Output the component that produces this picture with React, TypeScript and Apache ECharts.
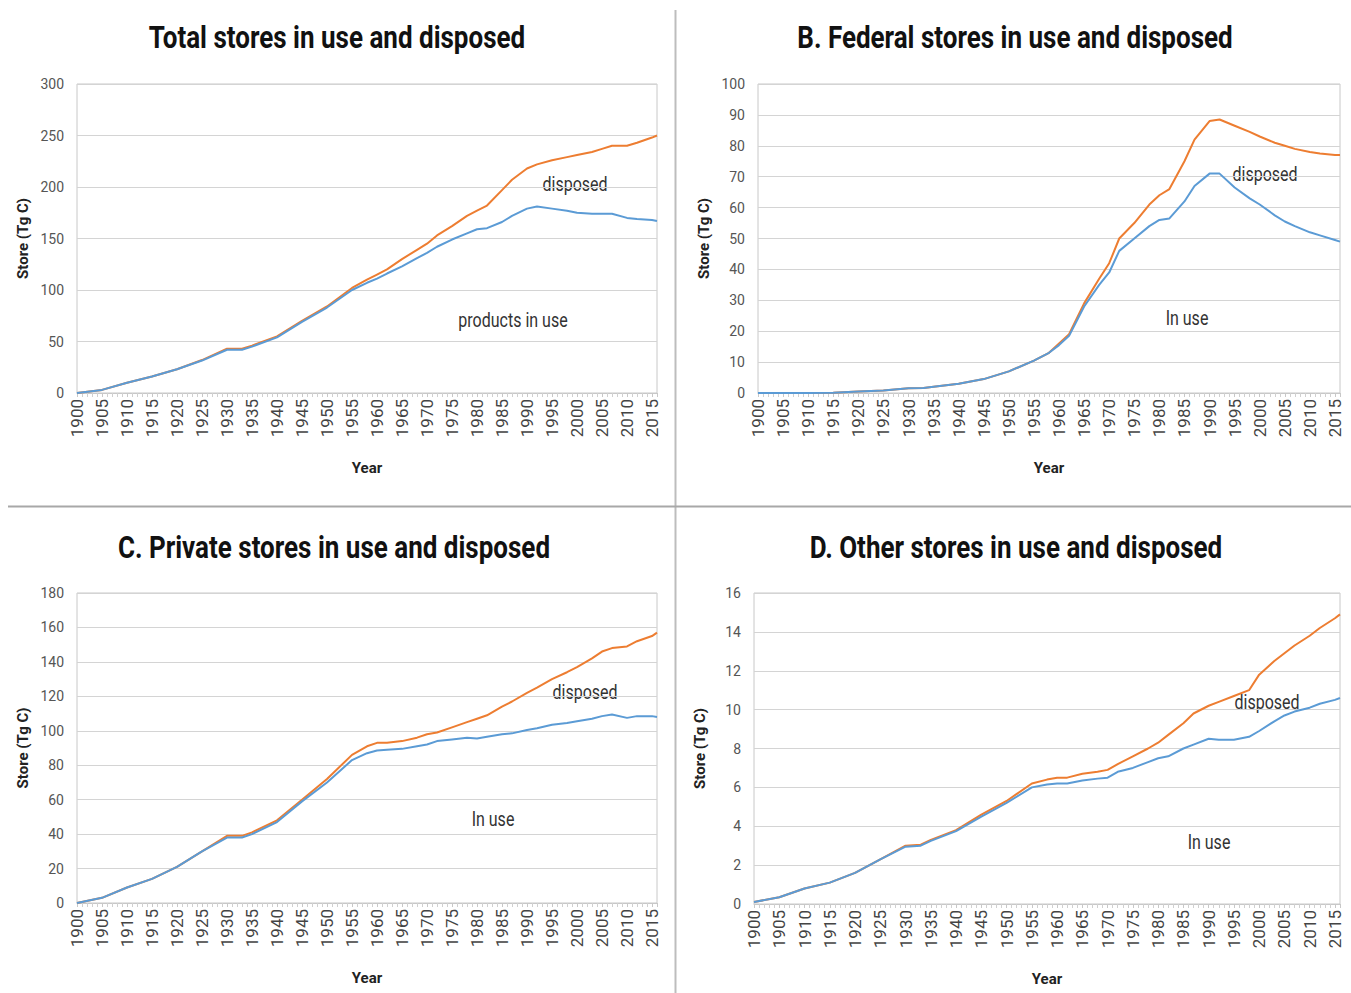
import React, { useEffect, useRef } from "react";
import * as echarts from "echarts";

const years = [1900, 1905, 1910, 1915, 1920, 1925, 1930, 1933, 1935, 1940, 1945, 1950, 1955, 1958, 1960, 1962, 1965, 1968, 1970, 1972, 1975, 1978, 1980, 1982, 1985, 1987, 1990, 1992, 1995, 1998, 2000, 2003, 2005, 2007, 2010, 2012, 2015, 2016];

const totalDisposed = [0, 3, 10, 16, 23, 32, 43, 43, 46, 55, 70, 84, 102, 110, 115, 120, 130, 139, 145, 153, 162, 172, 177, 182, 197, 207, 218, 222, 226, 229, 231, 234, 237, 240, 240, 243, 248, 250];
const totalInUse = [0, 3, 10, 16, 23, 31.5, 42, 42, 45, 54, 69, 83, 100, 107, 111, 116, 123, 131, 136, 142, 149, 155, 159, 160, 166, 172, 179, 181, 179, 177, 175, 174, 174, 174, 170, 169, 168, 167];

const federalDisposed = [0, 0, 0, 0.1, 0.5, 0.8, 1.5, 1.6, 2, 3, 4.5, 7, 10.5, 13, 16, 19, 29, 37, 42, 50, 55, 61, 64, 66, 75, 82, 88, 88.5, 86.5, 84.5, 83, 81, 80, 79, 78, 77.5, 77, 77];
const federalInUse = [0, 0, 0, 0.1, 0.5, 0.8, 1.5, 1.6, 2, 3, 4.5, 7, 10.5, 13, 15.5, 18.5, 28, 35, 39, 46, 50, 54, 56, 56.5, 62, 67, 71, 71, 66.5, 63, 61, 57.5, 55.5, 54, 52, 51, 49.5, 49];

const privateDisposed = [0, 3, 9, 14, 21, 30, 39, 39, 41, 48, 60, 72, 86, 91, 93, 93, 94, 96, 98, 99, 102, 105, 107, 109, 114, 117, 122, 125, 130, 134, 137, 142, 146, 148, 149, 152, 155, 157];
const privateInUse = [0, 3, 9, 14, 21, 30, 38, 38, 40, 47, 59, 70, 83, 87, 88.5, 89, 89.5, 91, 92, 94, 95, 96, 95.5, 96.5, 98, 98.5, 100.5, 101.5, 103.5, 104.5, 105.5, 107, 108.5, 109.5, 107.5, 108.5, 108.5, 108];

const otherDisposed = [0.1, 0.35, 0.8, 1.1, 1.6, 2.3, 3.0, 3.05, 3.3, 3.8, 4.6, 5.3, 6.2, 6.4, 6.5, 6.5, 6.7, 6.8, 6.9, 7.2, 7.6, 8.0, 8.3, 8.7, 9.3, 9.8, 10.2, 10.4, 10.7, 11.0, 11.8, 12.5, 12.9, 13.3, 13.8, 14.2, 14.7, 14.9];
const otherInUse = [0.1, 0.35, 0.8, 1.1, 1.6, 2.3, 2.95, 3.0, 3.25, 3.75, 4.5, 5.2, 6.0, 6.15, 6.2, 6.2, 6.35, 6.45, 6.5, 6.8, 7.0, 7.3, 7.5, 7.6, 8.0, 8.2, 8.5, 8.45, 8.45, 8.6, 8.9, 9.4, 9.7, 9.9, 10.1, 10.3, 10.5, 10.6];

const titles = [
  "Total stores in use and disposed",
  "B. Federal stores in use and disposed",
  "C. Private stores in use and disposed",
  "D. Other stores in use and disposed",
];
const yMax = [300, 100, 180, 16];
const yStep = [50, 10, 20, 2];
const disposedSets = [totalDisposed, federalDisposed, privateDisposed, otherDisposed];
const inUseSets = [totalInUse, federalInUse, privateInUse, otherInUse];
const inUseNotes = ["products in use", "In use", "In use", "In use"];
const disposedNote = "disposed";
const yName = "Store (Tg C)";
const xName = "Year";

const FONT = "Roboto, 'Open Sans', sans-serif";
const ORANGE = "#ED7D31";
const BLUE = "#5B9BD5";

const grids = [
  { left: 77, top: 84, width: 580, height: 309 },
  { left: 758, top: 84, width: 582, height: 309 },
  { left: 77, top: 593, width: 580, height: 310 },
  { left: 754, top: 593, width: 586, height: 311 },
];
const titlePos = [
  { x: 337, y: 37 },
  { x: 1015, y: 37 },
  { x: 334, y: 547 },
  { x: 1016, y: 547 },
];
const disposedPos = [
  { x: 575, y: 184 },
  { x: 1265, y: 174 },
  { x: 585, y: 692 },
  { x: 1267, y: 702 },
];
const inUsePos = [
  { x: 513, y: 320 },
  { x: 1187, y: 318 },
  { x: 493, y: 819 },
  { x: 1209, y: 842 },
];

export default function App() {
  const ref = useRef<HTMLDivElement>(null);
  useEffect(() => {
    document.body.style.margin = "0";
    if (!ref.current) return;
    const chart = echarts.init(ref.current, undefined, { renderer: "svg" });
    const gridOpts = grids.map((g) => ({
      ...g,
      show: true,
      borderColor: "#c8c8c8",
      borderWidth: 1,
      containLabel: false,
    }));
    const xAxes = grids.map((_, i) => ({
      type: "value",
      gridIndex: i,
      min: 1900,
      max: 2016,
      interval: 5,
      name: xName,
      nameLocation: "middle",
      nameGap: 67,
      nameTextStyle: { fontFamily: FONT, fontWeight: "bold", fontSize: 15, color: "#222" },
      axisLine: { show: true, lineStyle: { color: "#c8c8c8" } },
      axisTick: { show: true, length: 4, lineStyle: { color: "#c8c8c8" } },
      minorTick: { show: true, splitNumber: 5, length: 4, lineStyle: { color: "#d0d0d0" } },
      splitLine: { show: false },
      axisLabel: {
        rotate: 90,
        fontFamily: FONT,
        fontSize: 17,
        color: "#444",
        margin: 6,
        showMaxLabel: false,
        formatter: (v: number) => (v % 5 === 0 && v <= 2015 ? String(v) : ""),
      },
    }));
    const yAxes = grids.map((_, i) => ({
      type: "value",
      gridIndex: i,
      min: 0,
      max: yMax[i],
      interval: yStep[i],
      name: yName,
      nameLocation: "middle",
      nameGap: 47,
      nameTextStyle: { fontFamily: FONT, fontWeight: "bold", fontSize: 15, color: "#222" },
      axisLine: { show: false },
      axisTick: { show: false },
      splitLine: { show: true, lineStyle: { color: "#d4d4d4", width: 1 } },
      axisLabel: { fontFamily: FONT, fontSize: 14, color: "#555", margin: 13 },
    }));
    const series: any[] = [];
    grids.forEach((_, i) => {
      series.push({
        type: "line",
        name: "disposed",
        xAxisIndex: i,
        yAxisIndex: i,
        data: years.map((y, k) => [y, disposedSets[i][k]]),
        showSymbol: false,
        lineStyle: { color: ORANGE, width: 2 },
        itemStyle: { color: ORANGE },
      });
      series.push({
        type: "line",
        name: "in use",
        xAxisIndex: i,
        yAxisIndex: i,
        data: years.map((y, k) => [y, inUseSets[i][k]]),
        showSymbol: false,
        lineStyle: { color: BLUE, width: 2 },
        itemStyle: { color: BLUE },
      });
    });
    const graphic: any[] = [
      { type: "line", shape: { x1: 675.5, y1: 10, x2: 675.5, y2: 993 }, style: { stroke: "#bdbdbd", lineWidth: 2 } },
      { type: "line", shape: { x1: 8, y1: 506.5, x2: 1351, y2: 506.5 }, style: { stroke: "#a8a8a8", lineWidth: 2 } },
    ];
    titles.forEach((t, i) => {
      graphic.push({
        type: "text",
        x: titlePos[i].x,
        y: titlePos[i].y,
        scaleY: 1.22,
        style: { text: t, fontFamily: FONT, fontWeight: "bold", fontSize: 26, fill: "#111", align: "center", verticalAlign: "middle" },
      });
      graphic.push({
        type: "text",
        x: disposedPos[i].x,
        y: disposedPos[i].y,
        scaleY: 1.25,
        style: { text: disposedNote, fontFamily: FONT, fontSize: 16, fill: "#333", align: "center", verticalAlign: "middle" },
      });
      graphic.push({
        type: "text",
        x: inUsePos[i].x,
        y: inUsePos[i].y,
        scaleY: 1.25,
        style: { text: inUseNotes[i], fontFamily: FONT, fontSize: 16, fill: "#333", align: "center", verticalAlign: "middle" },
      });
    });
    chart.setOption({
      animation: false,
      backgroundColor: "#fff",
      grid: gridOpts,
      xAxis: xAxes,
      yAxis: yAxes,
      series,
      graphic,
    });
    return () => chart.dispose();
  }, []);
  return <div ref={ref} style={{ width: 1351, height: 993 }} />;
}
